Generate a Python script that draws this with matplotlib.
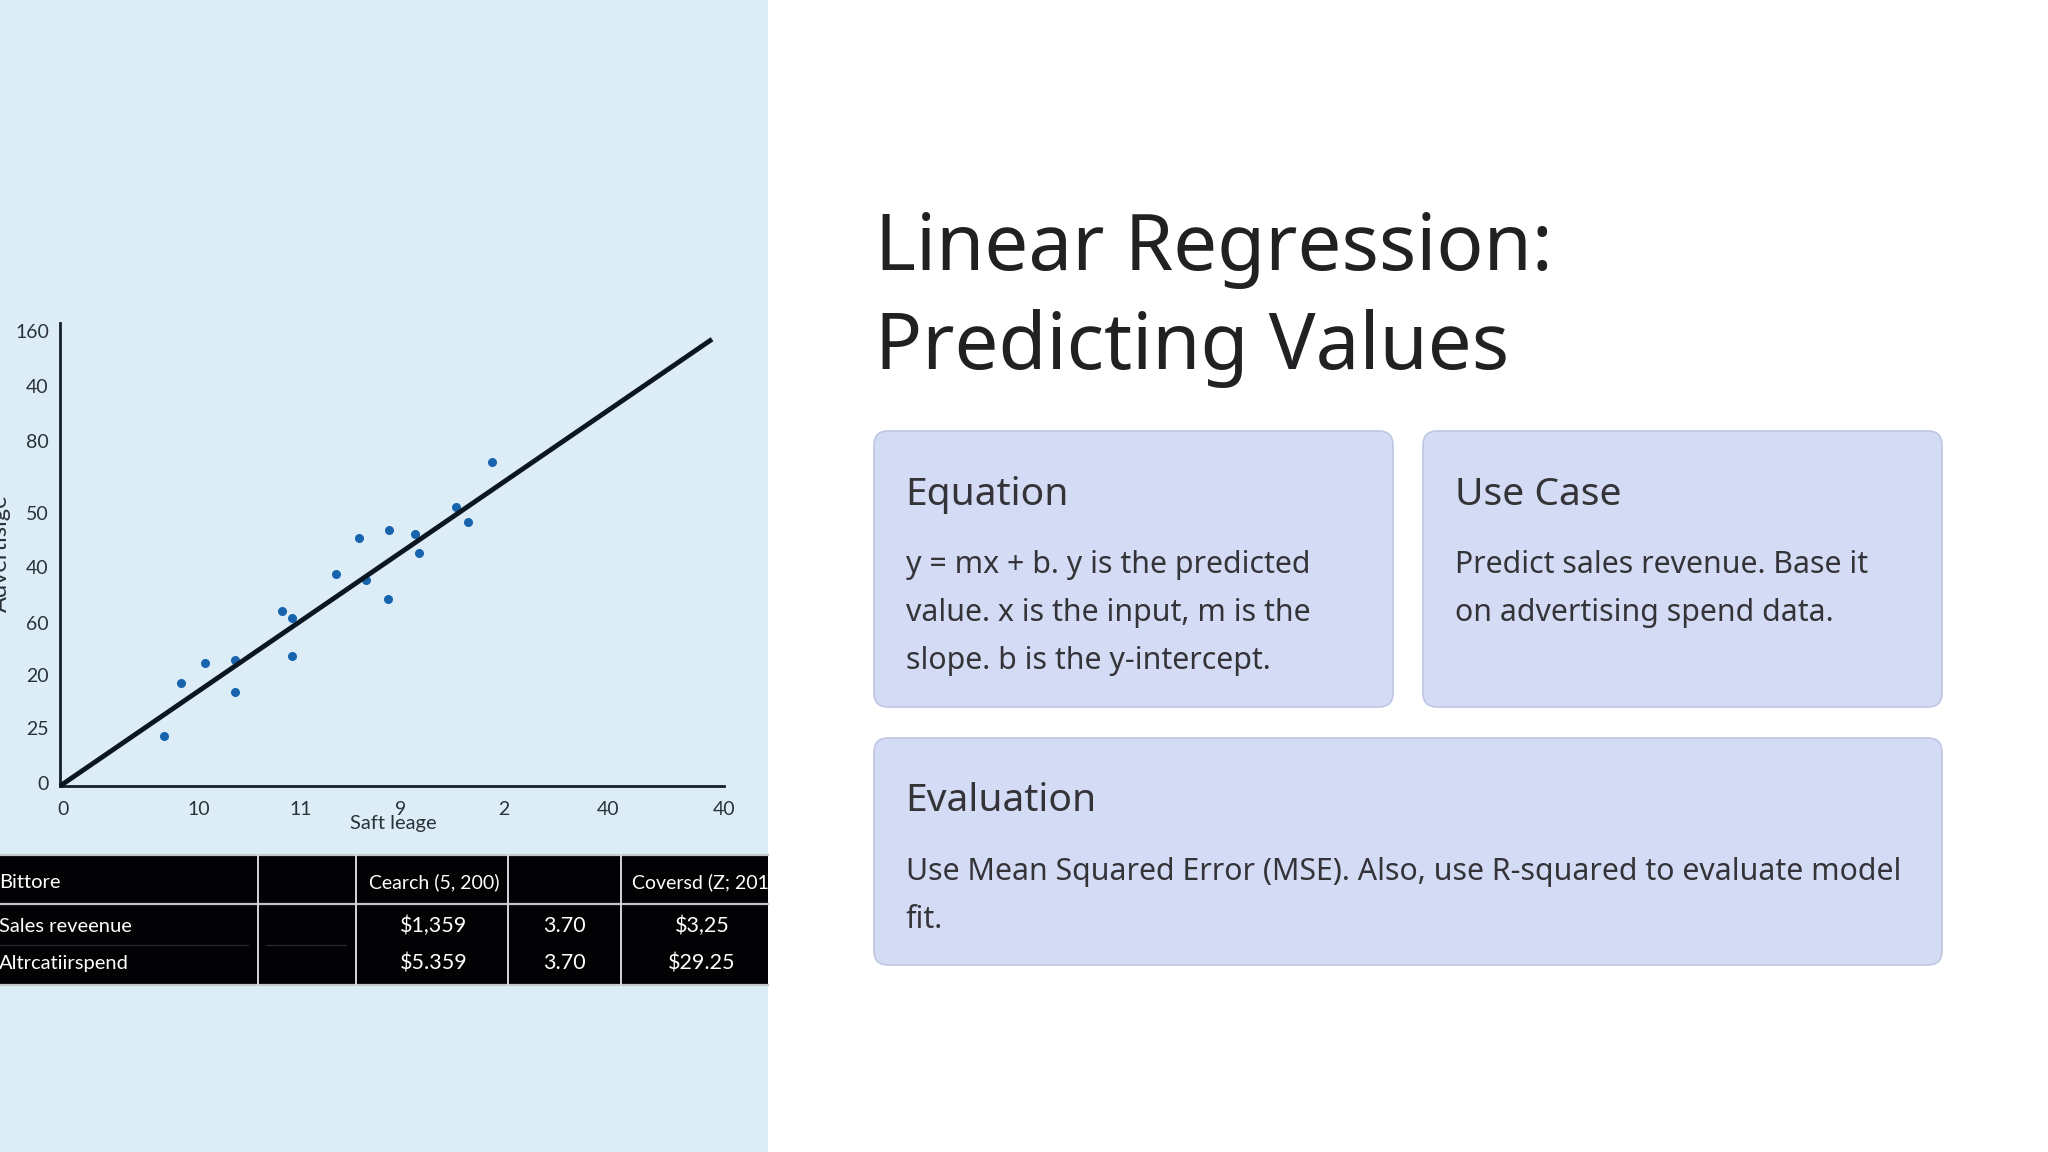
import matplotlib
matplotlib.use('Agg')
import matplotlib.pyplot as plt
from matplotlib.patches import Rectangle, FancyBboxPatch

# scatter, in axis percent
point_x = [15.7, 18.2, 21.9, 26.4, 26.3, 33.4, 34.9, 34.9, 41.6, 45.0, 46.1, 49.4, 49.6, 53.5, 54.1, 59.7, 61.5, 65.0]
point_y = [10.7, 22.2, 26.5, 27.3, 20.4, 37.9, 36.2, 28.1, 45.7, 53.5, 44.6, 40.3, 55.3, 54.5, 50.4, 60.2, 57.0, 69.9]
line_x = [0, 98.2]
line_y = [0, 96.5]

x_tick_pos = [0.5, 20.9, 36.3, 51.3, 66.9, 82.5, 100]
x_tick_labels = ['0', '10', '11', '9', '2', '40', '40']
y_tick_pos = [0.7, 12.5, 23.9, 35.2, 47.2, 59, 74.6, 86.5, 98.2]
y_tick_labels = ['0', '25', '20', '60', '40', '50', '80', '40', '160']

table_header = ['Bittore', '', 'Cearch (5, 200)', '', 'Coversd (Z; 201']
table_row1 = ['Sales reveenue', '', '$1,359', '3.70', '$3,25']
table_row2 = ['Altrcatiirspend', '', '$5.359', '3.70', '$29.25']

PANEL = '#DCEDF8'
CARD = '#D4DBF4'
CARD_EDGE = '#BFC6E2'
TEXT = '#333338'
CHART_FONT = 'Lato'
FONT = 'Noto Sans'
BODY = 21.8
HEAD = 28.1

fig = plt.figure(figsize=(20.48, 11.52), dpi=100, facecolor='white')

# full figure layer in pixels for panel, cards and text
bg = fig.add_axes([0, 0, 1, 1])
bg.set_xlim(0, 2048)
bg.set_ylim(1152, 0)
bg.axis('off')
bg.add_patch(Rectangle((0, 0), 768, 1152, fc=PANEL, ec='none'))

# table
bg.add_patch(Rectangle((0, 855), 768, 130, fc='#020204', ec='none'))
for y in [855, 904, 985]:
    bg.plot([0, 768], [y, y], color='#c4c8cc', lw=1.6)
for x in [258, 356, 508, 621]:
    bg.plot([x, x], [855, 985], color='#d4d6d8', lw=1.4)
bg.plot([0, 248], [945, 945], color='#26282c', lw=1)
bg.plot([266, 346], [945, 945], color='#26282c', lw=1)

col_x = [-1, 0, 434, 564, 702]
for row, y in [(table_header, 882), (table_row1, 926), (table_row2, 963)]:
    for i, val in enumerate(row):
        if not val:
            continue
        if i == 0:
            bg.text(col_x[i], y, val, color='white', fontsize=14.5, family=CHART_FONT, ha='left', va='center')
        elif row is table_header and i == 4:
            bg.text(632, y, val, color='white', fontsize=14, family=CHART_FONT, ha='left', va='center')
        elif row is table_header:
            bg.text(col_x[i], y, val, color='white', fontsize=14, family=CHART_FONT, ha='center', va='center')
        else:
            bg.text(col_x[i], y, val, color='white', fontsize=15.5, family=CHART_FONT, ha='center', va='center')

# cards
for x0, y0, w, h in [(874, 431, 519, 276), (1423, 431, 519, 276), (874, 738, 1068, 227)]:
    bg.add_patch(FancyBboxPatch((x0 + 14, y0 + 14), w - 28, h - 28, boxstyle='round,pad=14,rounding_size=14',
                                fc=CARD, ec=CARD_EDGE, lw=1.2))

bg.text(875, 270, 'Linear Regression:', fontsize=56.2, family=FONT, color='#212124', va='baseline')
bg.text(875, 369, 'Predicting Values', fontsize=56.2, family=FONT, color='#212124', va='baseline')

bg.text(905, 505, 'Equation', fontsize=HEAD, family=FONT, color=TEXT, va='baseline')
bg.text(906, 573, 'y = mx + b. y is the predicted', fontsize=BODY, family=FONT, color=TEXT, va='baseline')
bg.text(906, 621, 'value. x is the input, m is the', fontsize=BODY, family=FONT, color=TEXT, va='baseline')
bg.text(906, 669, 'slope. b is the y-intercept.', fontsize=BODY, family=FONT, color=TEXT, va='baseline')

bg.text(1455, 505, 'Use Case', fontsize=HEAD, family=FONT, color=TEXT, va='baseline')
bg.text(1455, 573, 'Predict sales revenue. Base it', fontsize=BODY, family=FONT, color=TEXT, va='baseline')
bg.text(1455, 621, 'on advertising spend data.', fontsize=BODY, family=FONT, color=TEXT, va='baseline')

bg.text(905, 811, 'Evaluation', fontsize=HEAD, family=FONT, color=TEXT, va='baseline')
bg.text(906, 880, 'Use Mean Squared Error (MSE). Also, use R-squared to evaluate model', fontsize=BODY, family=FONT, color=TEXT, va='baseline')
bg.text(906, 928, 'fit.', fontsize=BODY, family=FONT, color=TEXT, va='baseline')

# the chart itself
ax = fig.add_axes([60 / 2048, (1152 - 786) / 1152, 664 / 2048, 463 / 1152])
ax.patch.set_alpha(0)
ax.set_xlim(0, 100)
ax.set_ylim(0, 100)
for side in ['top', 'right']:
    ax.spines[side].set_visible(False)
for side in ['left', 'bottom']:
    ax.spines[side].set_linewidth(2)
    ax.spines[side].set_color('#15202a')

ax.plot(line_x, line_y, color='#0c1620', lw=3.5, solid_capstyle='butt', zorder=3, clip_on=False)
ax.scatter(point_x, point_y, s=30, color='#1763AE', zorder=2, clip_on=False)

ax.set_xticks(x_tick_pos)
ax.set_xticklabels(x_tick_labels, family=CHART_FONT, fontsize=14, color='#2a3238')
ax.set_yticks(y_tick_pos)
ax.set_yticklabels(y_tick_labels, family=CHART_FONT, fontsize=14, color='#2a3238')
ax.tick_params(axis='x', length=0, pad=10.5)
ax.tick_params(axis='y', length=0, pad=8)

ax.set_xlabel('Saft leage', family=CHART_FONT, fontsize=14.5, color='#2a3238')
ax.xaxis.set_label_coords(0.5015, -0.063)

# rotated label runs off the left edge in the original
bg.text(11, 553, 'Advertisige', rotation=90, ha='right', va='center', family=CHART_FONT, fontsize=17, color='#2a3238', zorder=5)

fig.savefig('out.png', dpi=100)
